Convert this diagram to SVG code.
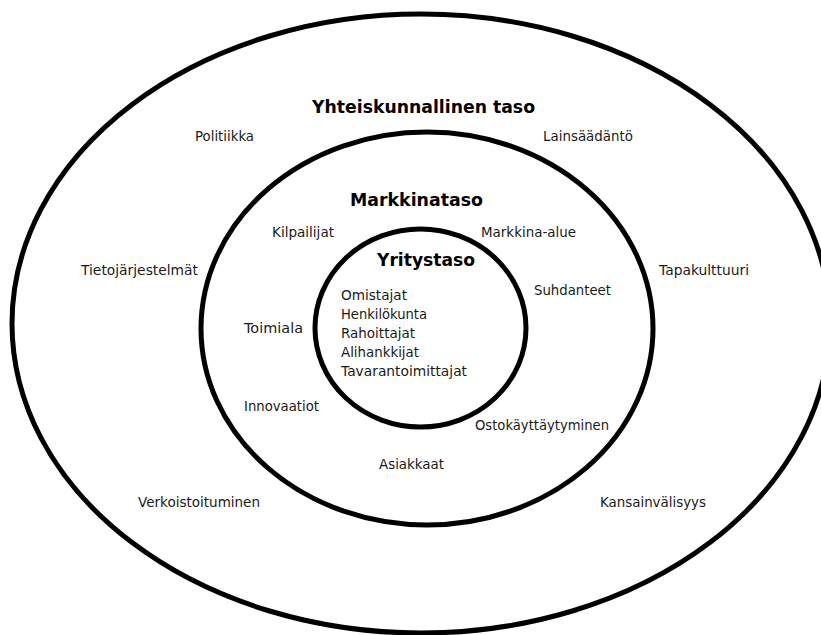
<svg xmlns="http://www.w3.org/2000/svg" width="821" height="635" viewBox="0 0 821 635">
  <style>
    .ring { fill: none; stroke: #000; stroke-width: 5; }
    .t { font-family: "DejaVu Sans", "Liberation Sans", sans-serif; font-size: 13.5px; fill: #1a1a1a; }
    .h { font-family: "DejaVu Sans", "Liberation Sans", sans-serif; font-size: 18.5px; font-weight: bold; fill: #000; }
  </style>
  <rect width="821" height="635" fill="#fff"/>

  <g id="yhteiskunnallinen-taso">
    <ellipse class="ring" cx="421" cy="323.5" rx="409" ry="309.5"/>
    <text class="h" x="312" y="113" textLength="223" lengthAdjust="spacingAndGlyphs">Yhteiskunnallinen taso</text>
    <text class="t" x="195" y="141" textLength="59" lengthAdjust="spacingAndGlyphs">Politiikka</text>
    <text class="t" x="543" y="141" textLength="90" lengthAdjust="spacingAndGlyphs">Lainsäädäntö</text>
    <text class="t" x="81" y="275" textLength="117" lengthAdjust="spacingAndGlyphs">Tietojärjestelmät</text>
    <text class="t" x="659" y="275" textLength="90" lengthAdjust="spacingAndGlyphs">Tapakulttuuri</text>
    <text class="t" x="138" y="507" textLength="122" lengthAdjust="spacingAndGlyphs">Verkoistoituminen</text>
    <text class="t" x="600" y="507" textLength="106" lengthAdjust="spacingAndGlyphs">Kansainvälisyys</text>
  </g>

  <g id="markkinataso">
    <ellipse class="ring" cx="427" cy="328.5" rx="226" ry="196.5"/>
    <text class="h" x="350" y="206" textLength="133" lengthAdjust="spacingAndGlyphs">Markkinataso</text>
    <text class="t" x="272" y="237" textLength="62" lengthAdjust="spacingAndGlyphs">Kilpailijat</text>
    <text class="t" x="481" y="237" textLength="95" lengthAdjust="spacingAndGlyphs">Markkina-alue</text>
    <text class="t" x="534" y="295" textLength="77" lengthAdjust="spacingAndGlyphs">Suhdanteet</text>
    <text class="t" x="244" y="333" textLength="59" lengthAdjust="spacingAndGlyphs">Toimiala</text>
    <text class="t" x="244" y="410.5" textLength="75" lengthAdjust="spacingAndGlyphs">Innovaatiot</text>
    <text class="t" x="475" y="430" textLength="134" lengthAdjust="spacingAndGlyphs">Ostokäyttäytyminen</text>
    <text class="t" x="379" y="469" textLength="65" lengthAdjust="spacingAndGlyphs">Asiakkaat</text>
  </g>

  <g id="yritystaso">
    <ellipse class="ring" cx="420.5" cy="328" rx="105.5" ry="99"/>
    <text class="h" x="377" y="265.5" textLength="98" lengthAdjust="spacingAndGlyphs">Yritystaso</text>
    <text class="t" x="341" y="299.5" textLength="66" lengthAdjust="spacingAndGlyphs">Omistajat</text>
    <text class="t" x="341" y="318.5" textLength="86" lengthAdjust="spacingAndGlyphs">Henkilökunta</text>
    <text class="t" x="341" y="337.5" textLength="74" lengthAdjust="spacingAndGlyphs">Rahoittajat</text>
    <text class="t" x="341" y="356.5" textLength="78" lengthAdjust="spacingAndGlyphs">Alihankkijat</text>
    <text class="t" x="341" y="375.5" textLength="126" lengthAdjust="spacingAndGlyphs">Tavarantoimittajat</text>
  </g>
</svg>
